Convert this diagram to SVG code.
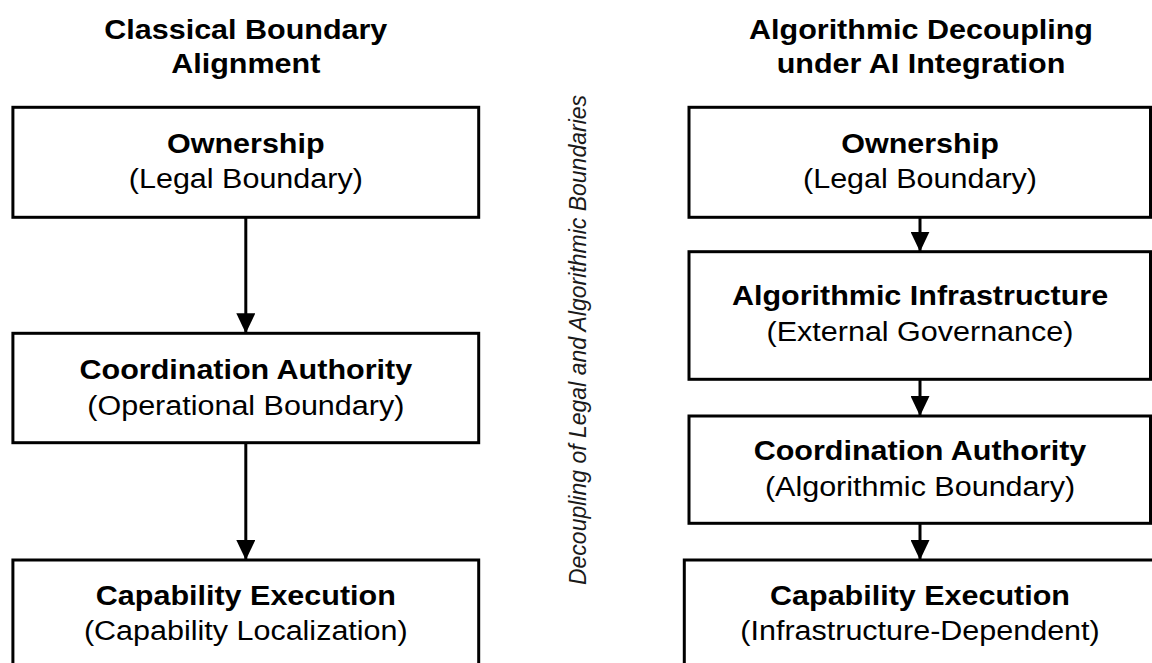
<svg xmlns="http://www.w3.org/2000/svg" width="1152" height="663" viewBox="0 0 1152 663">
<defs>
<style>
.box{fill:#ffffff;stroke:#000000;stroke-width:3}
.t{font-family:"Liberation Sans",Arial,Helvetica,sans-serif;font-size:28px;fill:#000000;text-anchor:middle}
.b{font-weight:bold}
.edge{stroke:#000000;stroke-width:3;fill:none}
.side{font-family:"Liberation Sans",Arial,Helvetica,sans-serif;font-size:23px;font-style:italic;fill:#1a1a1a;text-anchor:middle}
</style>
<marker id="arr" viewBox="0 0 20 19" refX="20" refY="9.5" markerWidth="20" markerHeight="19" markerUnits="userSpaceOnUse" orient="auto">
<path d="M0,0 L20,9.5 L0,19 Z" fill="#000000"/>
</marker>
</defs>
<rect width="1152" height="663" fill="#ffffff"/>

<g id="title-left" transform="translate(245.8 0) scale(1.09 1)">
<text class="t b" x="0" y="39.5">Classical Boundary</text>
<text class="t b" x="0" y="73">Alignment</text>
</g>
<g id="title-right" transform="translate(921 0) scale(1.09 1)">
<text class="t b" x="0" y="39.5">Algorithmic Decoupling</text>
<text class="t b" x="0" y="73">under AI Integration</text>
</g>

<g id="side-label">
<text class="side" transform="translate(586 340) rotate(-90)" x="0" y="0">Decoupling of Legal and Algorithmic Boundaries</text>
</g>

<g id="connectors">
<line class="edge" x1="245.8" y1="217.3" x2="245.8" y2="333.3" marker-end="url(#arr)"/>
<line class="edge" x1="245.8" y1="442.7" x2="245.8" y2="560" marker-end="url(#arr)"/>
<line class="edge" x1="920" y1="217.3" x2="920" y2="251.7" marker-end="url(#arr)"/>
<line class="edge" x1="920" y1="379.3" x2="920" y2="416" marker-end="url(#arr)"/>
<line class="edge" x1="920" y1="523.3" x2="920" y2="560" marker-end="url(#arr)"/>
</g>

<g id="L-ownership">
<rect class="box" x="12.9" y="107.3" width="465.8" height="110"/>
<g transform="translate(245.8 0) scale(1.09 1)">
<text class="t b" x="0" y="153.5">Ownership</text>
<text class="t" x="0" y="188.5">(Legal Boundary)</text>
</g>
</g>

<g id="L-coordination">
<rect class="box" x="12.9" y="333.3" width="465.8" height="109.4"/>
<g transform="translate(245.8 0) scale(1.09 1)">
<text class="t b" x="0" y="379.5">Coordination Authority</text>
<text class="t" x="0" y="415">(Operational Boundary)</text>
</g>
</g>

<g id="L-capability">
<rect class="box" x="12.9" y="560" width="465.8" height="110"/>
<g transform="translate(245.8 0) scale(1.09 1)">
<text class="t b" x="0" y="605">Capability Execution</text>
<text class="t" x="0" y="640.5">(Capability Localization)</text>
</g>
</g>

<g id="R-ownership">
<rect class="box" x="689" y="107.3" width="461.5" height="110"/>
<g transform="translate(920 0) scale(1.09 1)">
<text class="t b" x="0" y="153.5">Ownership</text>
<text class="t" x="0" y="188.5">(Legal Boundary)</text>
</g>
</g>

<g id="R-infrastructure">
<rect class="box" x="689" y="251.7" width="461.5" height="127.6"/>
<g transform="translate(920 0) scale(1.09 1)">
<text class="t b" x="0" y="305.5">Algorithmic Infrastructure</text>
<text class="t" x="0" y="341">(External Governance)</text>
</g>
</g>

<g id="R-coordination">
<rect class="box" x="689" y="416" width="461.5" height="107.3"/>
<g transform="translate(920 0) scale(1.09 1)">
<text class="t b" x="0" y="460.5">Coordination Authority</text>
<text class="t" x="0" y="496">(Algorithmic Boundary)</text>
</g>
</g>

<g id="R-capability">
<rect class="box" x="684.3" y="560" width="472" height="110"/>
<g transform="translate(920 0) scale(1.09 1)">
<text class="t b" x="0" y="605">Capability Execution</text>
<text class="t" x="0" y="640.5">(Infrastructure-Dependent)</text>
</g>
</g>
</svg>
